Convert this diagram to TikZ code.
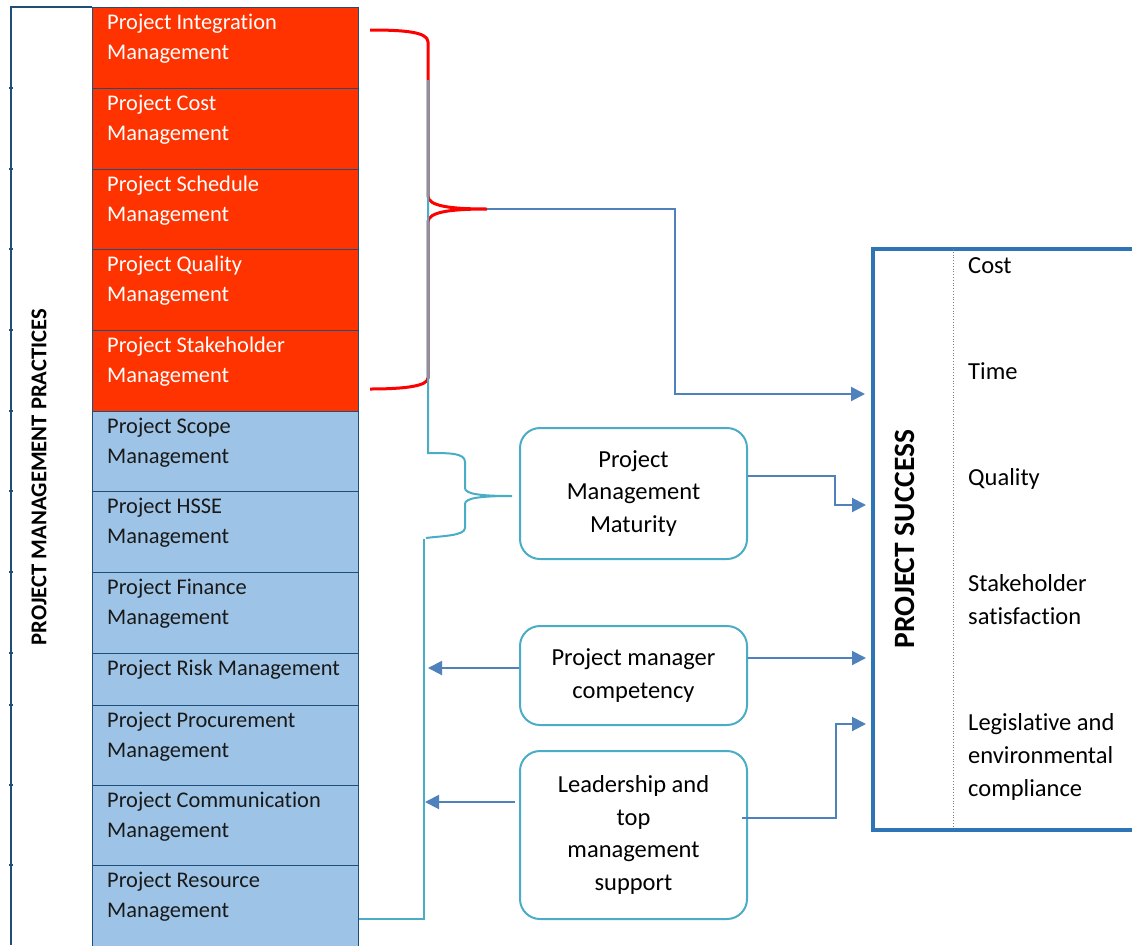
\documentclass[tikz,border=0pt]{standalone}
\usepackage{fontspec}
\setmainfont{Carlito}[Ligatures=NoCommon]
\usetikzlibrary{arrows.meta,calc}
\definecolor{pmred}{HTML}{FF3300}
\definecolor{pmblue}{HTML}{9DC3E6}
\definecolor{rowline}{HTML}{1F4E79}
\definecolor{cyanl}{HTML}{4BACC6}
\definecolor{arrowb}{HTML}{4F81BD}
\definecolor{succ}{HTML}{2E75B6}
\definecolor{bracered}{HTML}{FF0000}
\tikzset{
  rowbox/.style={draw=rowline, line width=1.2pt, anchor=north west, minimum width=266pt, inner sep=0pt},
  redrow/.style={rowbox, fill=pmred},
  bluerow/.style={rowbox, fill=pmblue},
  rowtext/.style={anchor=base west, inner sep=0pt, align=left, font=\fontsize{22.4}{29.5}\selectfont},
  whitetext/.style={rowtext, text=white},
  darktext/.style={rowtext, text=black!90},
  factor/.style={draw=cyanl, line width=2pt, rounded corners=20pt, minimum width=227pt, align=center, font=\fontsize{24.5}{32.5}\selectfont, anchor=north west},
  rtext/.style={anchor=base west, inner sep=0pt, align=left, font=\fontsize{24.5}{32.8}\selectfont},
  conn/.style={draw=arrowb, line width=2pt, -{Triangle[length=14pt,width=14pt]}},
  plain/.style={draw=arrowb, line width=2pt},
}
\begin{document}
\begin{tikzpicture}[x=1pt,y=-1pt]
\useasboundingbox (0,0) rectangle (1132,945);
% left label column
\draw[rowline, line width=1.2pt] (92,7) -- (11,7) -- (11,945);
\foreach \yy in {88,169,249,330,411,491,572,653,705,785,865}
  \draw[rowline, line width=1.2pt] (9,\yy) -- (13,\yy);
\node[rotate=90, font=\bfseries\fontsize{22.6}{26}\selectfont] (pmp) at (39,477) {PROJECT MANAGEMENT PRACTICES};
% rows
\node[redrow, minimum height=81pt] (r1) at (92,7) {};
\node[redrow, minimum height=81pt] (r2) at (92,88) {};
\node[redrow, minimum height=80pt] (r3) at (92,169) {};
\node[redrow, minimum height=81pt] (r4) at (92,249) {};
\node[redrow, minimum height=81pt] (r5) at (92,330) {};
\node[bluerow, minimum height=80pt] (r6) at (92,411) {};
\node[bluerow, minimum height=81pt] (r7) at (92,491) {};
\node[bluerow, minimum height=81pt] (r8) at (92,572) {};
\node[bluerow, minimum height=52pt] (r9) at (92,653) {};
\node[bluerow, minimum height=80pt] (r10) at (92,705) {};
\node[bluerow, minimum height=80pt] (r11) at (92,785) {};
\node[bluerow, minimum height=82pt] (r12) at (92,865) {};
\node[whitetext] (t1) at ($(r1.north west)+(15,52)$) {Project Integration\\Management};
\node[whitetext] (t2) at ($(r2.north west)+(15,52)$) {Project Cost\\Management};
\node[whitetext] (t3) at ($(r3.north west)+(15,52)$) {Project Schedule\\Management};
\node[whitetext] (t4) at ($(r4.north west)+(15,52)$) {Project Quality\\Management};
\node[whitetext] (t5) at ($(r5.north west)+(15,52)$) {Project Stakeholder\\Management};
\node[darktext] (t6) at ($(r6.north west)+(15,52)$) {Project Scope\\Management};
\node[darktext] (t7) at ($(r7.north west)+(15,52)$) {Project HSSE\\Management};
\node[darktext] (t8) at ($(r8.north west)+(15,52)$) {Project Finance\\Management};
\node[darktext] (t9) at ($(r9.north west)+(15,22.5)$) {Project Risk Management};
\node[darktext] (t10) at ($(r10.north west)+(15,52)$) {Project Procurement\\Management};
\node[darktext] (t11) at ($(r11.north west)+(15,52)$) {Project Communication\\Management};
\node[darktext] (t12) at ($(r12.north west)+(15,52)$) {Project Resource\\Management};
% red brace
\coordinate (rtip) at (487,209);
\draw[bracered, line width=3pt] (370,30) .. controls (405,30) and (428,32) .. (428,42) -- (428,196)
  .. controls (428,206) and (450,209) .. (rtip)
  .. controls (450,209) and (428,212) .. (428,222) -- (428,378)
  .. controls (428,386) and (405,389) .. (370,389);
% cyan brace
\coordinate (ctip) at (512,496);
\draw[cyanl, line width=2pt] (428,80) -- (428,453) .. controls (450,453) and (465,453) .. (465,462) -- (465,488)
  .. controls (465,494) and (480,496) .. (ctip)
  .. controls (480,496) and (465,498) .. (465,504) -- (465,528)
  .. controls (465,536) and (440,536) .. (426,538);
\draw[cyanl, line width=2pt] (424,539) -- (424,919) -- (r12.east |- 0,919);
% factor boxes
\node[factor, minimum height=131pt] (pmm) at (519,427) {Project\\Management\\Maturity};
\node[factor, minimum height=99pt] (pmc) at (519,625) {Project manager\\competency};
\node[factor, minimum height=168pt] (lead) at (519,750) {Leadership and\\top\\management\\support};
% success box
\node[draw=succ, line width=4pt, anchor=north west, minimum width=270pt, minimum height=581pt, inner sep=0pt] (succ) at (871,247) {};
\draw[gray, line width=0.8pt, dotted] (953,249) -- (953,826);
\node[rotate=90, font=\bfseries\fontsize{29.5}{32}\selectfont] (pst) at (905,539) {PROJECT SUCCESS};
\node[rtext] (c1) at (968,273) {Cost};
\node[rtext] (c2) at (968,379) {Time};
\node[rtext] (c3) at (968,485) {Quality};
\node[rtext] (c4) at (968,624) {Stakeholder\\satisfaction};
\node[rtext] (c5) at (968,796) {Legislative and\\environmental\\compliance};
% connectors
\coordinate (j1) at (675,394);
\draw[plain] (rtip) -- (500,209);
\draw[conn, shorten >=6pt] (500,209) -| (j1) -- (j1 -| succ.west);
\coordinate (j2) at (835,505);
\draw[conn, shorten >=5pt] (pmm.east |- 0,476) -| (j2) -- (j2 -| succ.west);
\draw[conn, shorten >=5pt] (pmc.east |- 0,658) -- (succ.west |- 0,658);
\coordinate (j3) at (836,724);
\draw[conn, shorten >=5pt] (742,818) -| (j3) -- (j3 -| succ.west);
\draw[conn] (pmc.west |- 0,668) -- (428,668);
\draw[conn] (515,802) -- (425,802);
\end{tikzpicture}
\end{document}
